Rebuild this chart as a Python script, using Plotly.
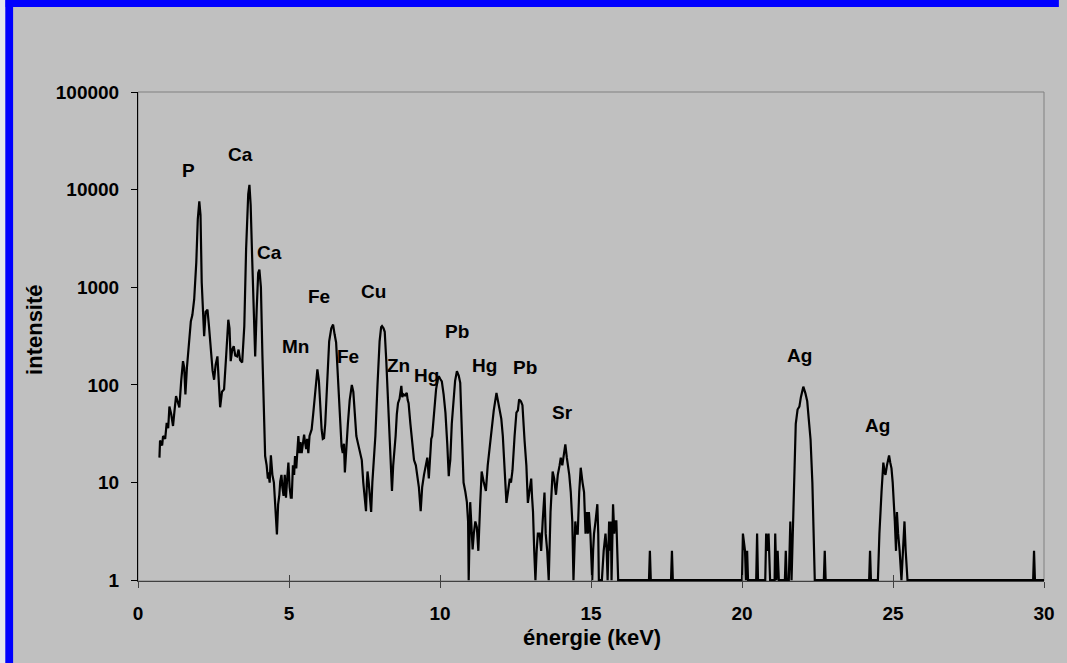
import plotly.graph_objects as go

# ---- data ----
energy_keV = [
    0.71, 0.73, 0.80, 0.83, 0.90, 0.95, 1.00, 1.04, 1.10, 1.16, 1.21, 1.26, 1.32, 1.37, 1.43, 1.49, 1.53, 1.57, 1.62, 1.70,
    1.75, 1.80, 1.86, 1.93, 1.98, 2.03, 2.07, 2.11, 2.15, 2.19, 2.24, 2.30, 2.35, 2.42, 2.47, 2.52, 2.57, 2.63, 2.68, 2.72,
    2.78, 2.85, 2.92, 2.99, 3.03, 3.07, 3.12, 3.17, 3.22, 3.28, 3.33, 3.38, 3.45, 3.52, 3.58, 3.65, 3.69, 3.73, 3.78, 3.83,
    3.88, 3.93, 3.98, 4.02, 4.07, 4.12, 4.17, 4.21, 4.26, 4.30, 4.32, 4.36, 4.40, 4.45, 4.50, 4.55, 4.60, 4.64, 4.68, 4.71,
    4.75, 4.78, 4.82, 4.86, 4.90, 4.94, 4.98, 5.02, 5.06, 5.09, 5.13, 5.17, 5.20, 5.24, 5.28, 5.31, 5.35, 5.38, 5.42, 5.46,
    5.50, 5.53, 5.57, 5.60, 5.64, 5.68, 5.72, 5.75, 5.80, 5.87, 5.94, 5.99, 6.03, 6.08, 6.12, 6.16, 6.20, 6.27, 6.33, 6.40,
    6.46, 6.51, 6.56, 6.62, 6.68, 6.74, 6.78, 6.82, 6.85, 6.88, 6.90, 6.95, 7.01, 7.08, 7.13, 7.18, 7.23, 7.28, 7.33, 7.37,
    7.41, 7.46, 7.51, 7.55, 7.58, 7.60, 7.64, 7.68, 7.72, 7.76, 7.81, 7.86, 7.93, 8.00, 8.05, 8.08, 8.13, 8.17, 8.22, 8.28,
    8.34, 8.38, 8.41, 8.45, 8.49, 8.53, 8.57, 8.61, 8.66, 8.72, 8.75, 8.79, 8.84, 8.90, 8.93, 8.96, 9.02, 9.08, 9.14, 9.20,
    9.25, 9.30, 9.36, 9.41, 9.47, 9.53, 9.58, 9.63, 9.68, 9.71, 9.74, 9.80, 9.87, 9.93, 9.96, 10.01, 10.06, 10.12, 10.18, 10.24,
    10.29, 10.31, 10.34, 10.39, 10.45, 10.50, 10.56, 10.62, 10.67, 10.72, 10.78, 10.84, 10.89, 10.93, 10.95, 11.00, 11.04, 11.08, 11.12, 11.17,
    11.22, 11.27, 11.33, 11.38, 11.45, 11.52, 11.58, 11.65, 11.71, 11.78, 11.87, 11.95, 12.03, 12.08, 12.13, 12.20, 12.25, 12.31, 12.35, 12.40,
    12.47, 12.53, 12.58, 12.62, 12.68, 12.73, 12.80, 12.86, 12.91, 12.96, 13.02, 13.05, 13.08, 13.12, 13.16, 13.20, 13.24, 13.30, 13.35, 13.40,
    13.46, 13.50, 13.55, 13.60, 13.66, 13.73, 13.78, 13.84, 13.90, 13.96, 14.00, 14.05, 14.10, 14.15, 14.20, 14.28, 14.33, 14.38, 14.42, 14.45,
    14.48, 14.52, 14.56, 14.61, 14.66, 14.72, 14.77, 14.82, 14.86, 14.90, 14.93, 14.98, 15.02, 15.04, 15.07, 15.10, 15.15, 15.21, 15.24, 15.26,
    15.36, 15.42, 15.48, 15.52, 15.55, 15.58, 15.60, 15.63, 15.66, 15.68, 15.70, 15.73, 15.77, 15.80, 15.84, 15.88, 15.90, 16.92, 16.95, 16.98,
    17.65, 17.68, 17.71, 20.00, 20.03, 20.10, 20.13, 20.17, 20.20, 20.47, 20.50, 20.53, 20.77, 20.80, 20.83, 20.88, 20.93, 21.08, 21.10, 21.14,
    21.18, 21.22, 21.42, 21.45, 21.48, 21.55, 21.60, 21.64, 21.68, 21.73, 21.78, 21.84, 21.90, 21.95, 22.03, 22.10, 22.16, 22.21, 22.27, 22.33,
    22.38, 22.41, 22.71, 22.74, 22.77, 24.21, 24.24, 24.27, 24.50, 24.55, 24.62, 24.68, 24.72, 24.75, 24.80, 24.87, 24.91, 24.95, 24.99, 25.03,
    25.06, 25.10, 25.13, 25.17, 25.22, 25.28, 25.32, 25.35, 25.38, 25.42, 25.48, 29.64, 29.67, 29.70, 30.00,
]
intensity = [
    18, 27, 24, 30, 28, 41, 36, 60, 50, 38, 55, 77, 66, 59, 110, 175, 150, 80, 150, 345,
    450, 520, 750, 1800, 5000, 7570, 5500, 1120, 520, 315, 560, 590, 400, 200, 140, 113, 160, 196, 110, 59,
    85, 90, 200, 465, 380, 175, 230, 250, 200, 196, 230, 180, 170, 400, 2500, 9000, 11200, 7000, 2000, 500,
    196, 600, 1400, 1515, 1000, 200, 40, 18.7, 15, 11, 12.7, 10, 19, 12, 10, 6, 2.95, 6, 7.5, 10.3,
    12, 9, 7.3, 12, 7, 11, 16, 9, 7, 7, 15, 12, 18.7, 14, 22, 30, 20, 26, 20, 25,
    31, 26, 22, 28, 20, 30, 32, 35, 50, 90, 144, 110, 60, 35, 28, 28.5, 40, 120, 280, 380,
    415, 330, 272, 120, 50, 23.5, 20, 25, 12.7, 20, 25, 40, 70, 100, 85, 55, 30, 25.5, 22, 20,
    17, 10, 6, 5.1, 10, 13, 10, 7, 5, 10, 17, 30, 100, 280, 390, 400, 380, 350, 180, 60,
    20, 10, 8.2, 15, 20, 30, 50, 65, 72, 98, 75, 80, 78, 83, 70, 65, 40, 25, 17, 15,
    10.8, 9, 5.1, 9, 12, 15, 18, 11, 20, 28, 30, 50, 90, 115, 123, 115, 109, 80, 52, 25,
    11.6, 14, 17, 40, 77, 110, 138, 125, 105, 40, 10, 8, 6.3, 4, 1, 6.3, 3, 2.07, 3, 4,
    3.5, 2, 6, 13, 10, 8.2, 15, 25, 39, 55, 83, 60, 45, 30, 15, 6.2, 8, 11, 10, 13.3,
    30, 52, 55, 71, 68, 62, 27, 15, 6.2, 8, 11, 7, 5, 2, 1, 2, 3, 3, 2, 4,
    7.9, 3, 2, 1, 5, 13, 11, 7.5, 12, 15, 18, 15, 20, 24.6, 18, 12, 8, 4, 1, 3,
    4, 3, 3, 8, 14.2, 10, 8, 3, 5, 3, 5, 3, 1, 1, 2, 3, 4, 6, 3, 1,
    1, 2, 3, 2, 1, 4, 4, 2, 4, 1, 3, 6, 3, 4, 4, 2, 1, 1, 2, 1,
    1, 2, 1, 1, 3, 2, 1, 2, 1, 1, 3, 1, 1, 3, 2, 3, 1, 1, 3, 1,
    2, 1, 1, 2, 1, 1, 4, 1, 3, 18.5, 40, 56, 60, 75, 96, 82, 68, 45, 27.6, 10,
    3.1, 1, 1, 2, 1, 1, 2, 1, 1, 3, 8, 16, 13, 12, 15, 19, 16, 14, 10, 6.3,
    4, 2, 5, 3, 2, 1, 2, 3, 4, 2, 1, 1, 2, 1, 1,
]

peak_labels = ["P", "Ca", "Ca", "Mn", "Fe", "Fe", "Cu", "Zn", "Hg", "Pb", "Hg", "Pb", "Sr", "Ag", "Ag"]
label_energy = [1.66, 3.40, 4.35, 5.20, 6.00, 6.95, 7.80, 8.62, 9.54, 10.56, 11.48, 12.80, 14.04, 21.92, 24.48]
label_log_intensity = [4.20, 4.356, 3.354, 2.39, 2.91, 2.29, 2.955, 2.20, 2.10, 2.55, 2.20, 2.18, 1.72, 2.30, 1.585]

x_ticks = [0, 5, 10, 15, 20, 25, 30]
y_ticks = [1, 10, 100, 1000, 10000, 100000]
y_tick_text = ["1", "10", "100", "1000", "10000", "100000"]

FONT = "Liberation Sans, Arial, sans-serif"
GREY = "#C0C0C0"

fig = go.Figure()
fig.add_trace(go.Scatter(
    x=energy_keV, y=intensity, mode="lines",
    line=dict(color="black", width=2.2), showlegend=False, hoverinfo="x+y",
))
# empty helper trace on an overlaid x axis that only draws the inner half of the crossing ticks
fig.add_trace(go.Scatter(x=[x_ticks[0]], y=[y_ticks[0]], xaxis="x2", mode="lines",
                         showlegend=False, hoverinfo="skip"))

annotations = []
for txt, ex, ly in zip(peak_labels, label_energy, label_log_intensity):
    annotations.append(dict(x=ex, y=ly, xref="x", yref="y", text="<b>%s</b>" % txt,
                            xanchor="center", yanchor="middle",
                            showarrow=False, font=dict(family=FONT, size=19, color="black")))

# plot geometry in pixels
FIG_W, FIG_H = 1067, 663
L, R, T, B = 138, 15, 92, 82
W, H = FIG_W - L - R, FIG_H - T - B

def px_x(p):
    return (p - L) / W

def px_y(p):
    return (FIG_H - B - p) / H

annotations.append(dict(x=px_x(596), y=px_y(637), xref="paper", yref="paper",
                        xanchor="center", yanchor="middle",
                        text="<b>énergie (keV)</b>", showarrow=False,
                        font=dict(family=FONT, size=22, color="black")))
annotations.append(dict(x=px_x(33), y=px_y(330), xref="paper", yref="paper",
                        xanchor="center", yanchor="middle",
                        text="<b>intensité</b>", showarrow=False, textangle=-90,
                        font=dict(family=FONT, size=22, color="black")))

shapes = [
    # plot area frame (grey)
    dict(type="rect", xref="paper", yref="paper", x0=0, x1=1, y0=0, y1=1,
         line=dict(color="#808080", width=1), fillcolor=GREY, layer="below"),
    # blue frame pieces (top and left)
    dict(type="rect", xref="paper", yref="paper", x0=px_x(0), x1=px_x(FIG_W), y0=px_y(7), y1=px_y(-2),
         line=dict(width=0), fillcolor="#0000FF", layer="below"),
    dict(type="rect", xref="paper", yref="paper", x0=px_x(4), x1=px_x(12), y0=px_y(FIG_H + 2), y1=px_y(0),
         line=dict(width=0), fillcolor="#0000FF", layer="below"),
    dict(type="rect", xref="paper", yref="paper", x0=px_x(-2), x1=px_x(4), y0=px_y(FIG_H + 2), y1=px_y(0),
         line=dict(width=0), fillcolor="#E4E6EE", layer="below"),
]

fig.update_layout(
    width=FIG_W, height=FIG_H, autosize=False,
    margin=dict(l=L, r=R, t=T, b=B, pad=0),
    paper_bgcolor=GREY, plot_bgcolor=GREY,
    font=dict(family=FONT, size=19, color="black"),
    annotations=annotations, shapes=shapes,
    xaxis=dict(range=[0, 30], tickmode="array", tickvals=x_ticks,
               ticktext=["<b>%d</b>" % v for v in x_ticks],
               showgrid=False, zeroline=False, showline=True, linecolor="#404040", linewidth=1,
               ticks="outside", ticklen=6, tickcolor="#404040", tickwidth=1,
               ticklabelstandoff=9, tickfont=dict(family=FONT, size=19, color="black")),
    xaxis2=dict(range=[0, 30], overlaying="x", anchor="y", side="bottom",
                tickmode="array", tickvals=x_ticks, showticklabels=False,
                showgrid=False, zeroline=False, showline=False,
                ticks="inside", ticklen=6, tickcolor="#404040", tickwidth=1),
    yaxis=dict(type="log", range=[-0.008, 5], tickmode="array", tickvals=y_ticks,
               ticktext=["<b>%s</b>" % t for t in y_tick_text],
               showgrid=False, zeroline=False, showline=True, linecolor="black", linewidth=1,
               ticks="outside", ticklen=6, tickcolor="black", tickwidth=1,
               ticklabelstandoff=8, tickfont=dict(family=FONT, size=19, color="black")),
)

fig.write_html(
    "out.html",
    config={"responsive": False},
    post_script="document.body.style.margin='0';document.body.style.overflow='hidden';",
)
